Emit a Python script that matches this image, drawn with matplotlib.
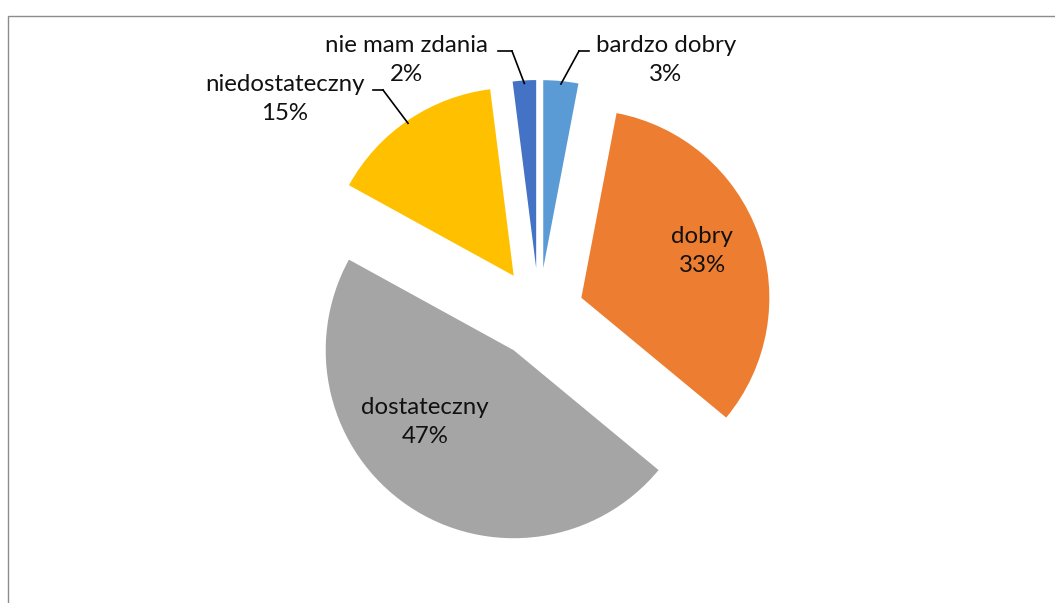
import numpy as np
import matplotlib.pyplot as plt
from matplotlib.patches import Rectangle

# survey answers, clockwise from 12 o'clock
labels = ['bardzo dobry', 'dobry', 'dostateczny', 'niedostateczny', 'nie mam zdania']
values = [3, 33, 47, 15, 2]
colors = ['#5B9BD5', '#ED7D31', '#A5A5A5', '#FFC000', '#4472C4']

plt.rcParams['font.family'] = ['Lato', 'DejaVu Sans']

W, H = 1055, 603
fig = plt.figure(figsize=(W / 100, H / 100), dpi=100)
ax = fig.add_axes([0, 0, 1, 1])

cx, cy, R = 539, H - 313, 188
# explode is in data units here (pixels)
wedges, _ = ax.pie(values, colors=colors, startangle=90, counterclock=False,
                   explode=[45] * len(values), radius=R, center=(cx, cy),
                   wedgeprops=dict(linewidth=0))
# pie() resets the limits, so work in pixel units afterwards
ax.set_xlim(0, W)
ax.set_ylim(0, H)
ax.set_aspect('equal')
ax.axis('off')

# chart area frame
fig.patches.append(Rectangle((8 / W, -0.1), 1.2, (H - 16) / H + 0.1,
                             transform=fig.transFigure, fill=False,
                             edgecolor='#8c8c8c', linewidth=1.0))

fs = 17.3
tc = '#111111'
ls = 1.42
# labels inside the big slices
inside = {'dobry': (702, 251), 'dostateczny': (425, 422)}
# labels outside with leader lines: text centre, elbow start, elbow end
outside = {'bardzo dobry': ((666, 60), (589, 51), (579, 51)),
           'nie mam zdania': ((406, 60), (498, 51), (512, 51)),
           'niedostateczny': ((285, 99), (373, 90), (383, 90))}

for w, lab, v in zip(wedges, labels, values):
    txt = f'{lab}\n{v}%'
    if lab in inside:
        x, y = inside[lab]
        ax.text(x, H - y, txt, ha='center', va='center', fontsize=fs,
                color=tc, linespacing=ls)
    else:
        (tx, ty), (ex0, ey), (ex1, _) = outside[lab]
        ax.text(tx, H - ty, txt, ha='center', va='center', fontsize=fs,
                color=tc, linespacing=ls)
        mid = np.deg2rad((w.theta1 + w.theta2) / 2)
        px = w.center[0] + w.r * np.cos(mid)
        py = w.center[1] + w.r * np.sin(mid) - 3
        ax.plot([ex0, ex1], [H - ey, H - ey], color='black', lw=1.2)
        ax.plot([ex1, px], [H - ey, py], color='black', lw=1.2)

fig.savefig('out.png', dpi=100)
